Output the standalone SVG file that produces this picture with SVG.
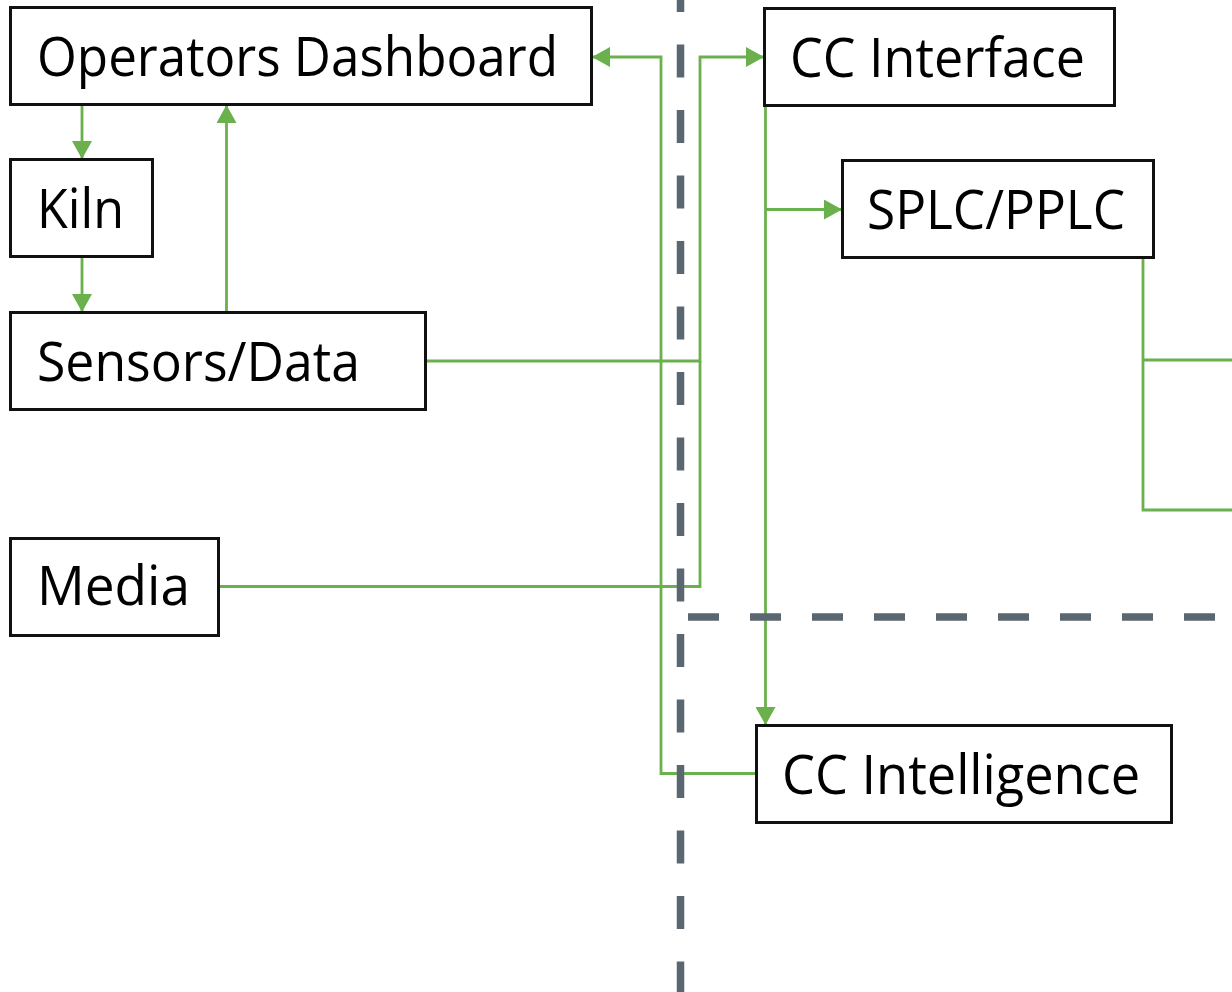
<svg xmlns="http://www.w3.org/2000/svg" width="1232" height="992" viewBox="0 0 1232 992">
  <defs>
    <marker id="arrow" viewBox="0 0 18 20" refX="17" refY="10" markerWidth="18" markerHeight="20" markerUnits="userSpaceOnUse" orient="auto">
      <path d="M0,0 L18,10 L0,20 Z" fill="#6AB04C"/>
    </marker>
    <style>
      .box { fill: #ffffff; stroke: #111111; stroke-width: 3; }
      .label { font-family: "Open Sans", "Liberation Sans", sans-serif; font-size: 55px; fill: #000000; }
      .conn { fill: none; stroke: #6AB04C; stroke-width: 2.8; }
      .zone { fill: none; stroke: #5B6770; stroke-width: 7.5; }
    </style>
  </defs>
  <rect width="1232" height="992" fill="#ffffff"/>

  <!-- connectors -->
  <g id="connectors">
    <path class="conn" d="M82,104 V158" marker-end="url(#arrow)"/>
    <path class="conn" d="M82,257 V311" marker-end="url(#arrow)"/>
    <path class="conn" d="M226.5,312 V106" marker-end="url(#arrow)"/>
    <path class="conn" d="M425,361 H700 V57 H763" marker-end="url(#arrow)"/>
    <path class="conn" d="M218,586.5 H700 V361"/>
    <path class="conn" d="M756,773.5 H661 V57 H593" marker-end="url(#arrow)"/>
    <path class="conn" d="M765.5,105 V724" marker-end="url(#arrow)"/>
    <path class="conn" d="M765.5,209.5 H841" marker-end="url(#arrow)"/>
    <path class="conn" d="M1143,258 V510 H1232 M1143,360 H1232"/>
  </g>

  <!-- zone boundaries -->
  <g id="zones">
    <path class="zone" d="M680.5,-21 V992" stroke-dasharray="33 32.5"/>
    <path class="zone" d="M688,617 H1232" stroke-dasharray="31 31"/>
  </g>

  <g id="operators-dashboard">
    <rect class="box" x="10.5" y="7.5" width="581" height="97"/>
    <text class="label" x="37" y="76" textLength="521" lengthAdjust="spacingAndGlyphs">Operators Dashboard</text>
  </g>
  <g id="kiln">
    <rect class="box" x="10.5" y="159.5" width="142" height="97"/>
    <text class="label" x="37" y="228" textLength="87" lengthAdjust="spacingAndGlyphs">Kiln</text>
  </g>
  <g id="sensors-data">
    <rect class="box" x="10.5" y="312.5" width="415" height="97"/>
    <text class="label" x="37" y="381" textLength="323" lengthAdjust="spacingAndGlyphs">Sensors/Data</text>
  </g>
  <g id="media">
    <rect class="box" x="10.5" y="538.5" width="208" height="97"/>
    <text class="label" x="37" y="605" textLength="153" lengthAdjust="spacingAndGlyphs">Media</text>
  </g>
  <g id="cc-interface">
    <rect class="box" x="764.5" y="8.5" width="350" height="97"/>
    <text class="label" x="790" y="77" textLength="295" lengthAdjust="spacingAndGlyphs">CC Interface</text>
  </g>
  <g id="splc-pplc">
    <rect class="box" x="842.5" y="160.5" width="311" height="97"/>
    <text class="label" x="867" y="229" textLength="258" lengthAdjust="spacingAndGlyphs">SPLC/PPLC</text>
  </g>
  <g id="cc-intelligence">
    <rect class="box" x="756.5" y="725.5" width="415" height="97"/>
    <text class="label" x="782" y="794" textLength="358" lengthAdjust="spacingAndGlyphs">CC Intelligence</text>
  </g>
</svg>
